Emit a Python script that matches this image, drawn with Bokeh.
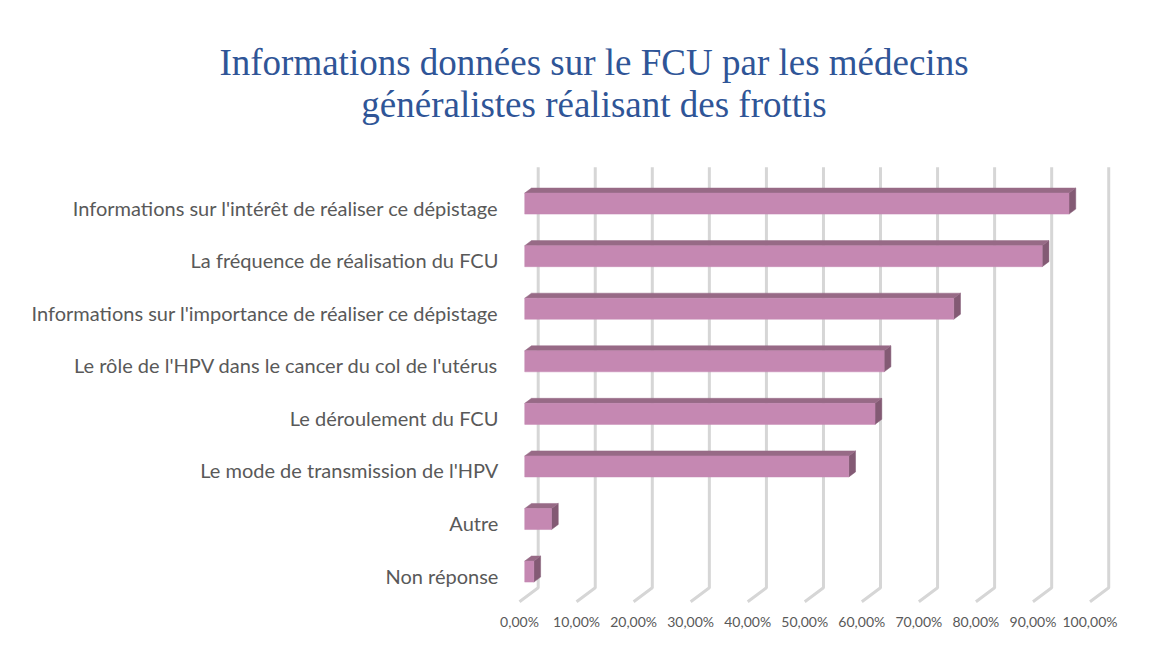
import numpy as np
from bokeh.plotting import figure
from bokeh.models import FixedTicker, Range1d, Label
from bokeh.core.properties import value
from bokeh.embed import file_html
from bokeh.resources import INLINE

# ---------------- data ----------------
title_lines = ["Informations données sur le FCU par les médecins",
               "généralistes réalisant des frottis"]
categories = [
    "Informations sur l'intérêt de réaliser ce dépistage",
    "La fréquence de réalisation du FCU",
    "Informations sur l'importance de réaliser ce dépistage",
    "Le rôle de l'HPV dans le cancer du col de l'utérus",
    "Le déroulement du FCU",
    "Le mode de transmission de l'HPV",
    "Autre",
    "Non réponse",
]
values = [95.4, 90.7, 75.2, 63.0, 61.4, 56.8, 4.7, 1.6]
tick_values = [0, 10, 20, 30, 40, 50, 60, 70, 80, 90, 100]
tick_labels = ["0,00%", "10,00%", "20,00%", "30,00%", "40,00%", "50,00%",
               "60,00%", "70,00%", "80,00%", "90,00%", "100,00%"]

# ---------------- 3D geometry (style) ----------------
DX, DY = 3.28, 0.266      # depth vector (front -> back) in data units
F1, F2 = 0.28, 0.64       # bar front / back depth fractions
HALF = 0.2                # half bar height
ROW_PX = 52.57            # pixels per category row
n = len(categories)
rows = np.arange(n)[::-1].astype(float)
vals = np.array(values, dtype=float)

FW, FH = 1131, 604
y_end = 575 / ROW_PX
y_start = y_end - FH / ROW_PX
x_rng = Range1d(-86.06, 112.18)
p = figure(frame_width=FW, frame_height=FH,
           x_range=x_rng, y_range=Range1d(y_start, y_end),
           min_border_left=28, min_border_right=0, min_border_top=0,
           min_border_bottom=5, y_axis_location=None,
           output_backend="svg", toolbar_location=None)
p.outline_line_color = None
p.xgrid.visible = False
p.ygrid.visible = False
p.background_fill_color = "white"
p.border_fill_color = "white"

# title (two centred lines at the top of the chart area)
x_mid = (x_rng.start + x_rng.end) / 2
for line, py in zip(title_lines, [62, 104]):
    p.add_layout(Label(x=x_mid, y=y_end - py / ROW_PX,
                       text=line, text_align="center", text_baseline="middle",
                       text_font="Liberation Serif", text_font_size="37px",
                       text_color="#2f5597"))

# grid: back wall + floor diagonals
gx, gy = [], []
for t in tick_values:
    gx.append([t + DX, t + DX, t])
    gy.append([n - 0.5 + DY, -0.5 + DY, -0.5])
p.multi_line(gx, gy, line_color="#d6d6d6", line_width=3)

# bars
lf = np.full(n, F1 * DX); rf = vals + F1 * DX
lb = np.full(n, F2 * DX); rb = vals + F2 * DX
bf = rows + F1 * DY - HALF; tf = rows + F1 * DY + HALF
bb = rows + F2 * DY - HALF; tb = rows + F2 * DY + HALF

side_x = [[rf[i], rf[i], rb[i], rb[i]] for i in range(n)]
side_y = [[bf[i], tf[i], tb[i], bb[i]] for i in range(n)]
top_x = [[lf[i], rf[i], rb[i], lb[i]] for i in range(n)]
top_y = [[tf[i], tf[i], tb[i], tb[i]] for i in range(n)]
p.patches(side_x, side_y, fill_color="#835a74", line_color="#835a74", line_width=0.5)
p.patches(top_x, top_y, fill_color="#976a86", line_color="#976a86", line_width=0.5)
p.quad(left=lf, right=rf, bottom=bf, top=tf, fill_color="#c588b2", line_color="#c588b2", line_width=0.5)

# category labels
p.text(x=-3.7, y=rows, text=categories, text_align="right", text_baseline="middle",
       text_font=value("Lato"), text_font_size="20px", text_color="#595959")

# x axis
p.xaxis.ticker = FixedTicker(ticks=tick_values)
p.xaxis.major_label_overrides = {t: l for t, l in zip(tick_values, tick_labels)}
p.xaxis.axis_line_color = None
p.xaxis.major_tick_line_color = None
p.xaxis.minor_tick_line_color = None
p.xaxis.major_label_standoff = 2
p.xaxis.major_label_text_font = "Lato"
p.xaxis.major_label_text_font_size = "14px"
p.xaxis.major_label_text_color = "#595959"

open("out.html", "w").write(file_html(p, INLINE))
